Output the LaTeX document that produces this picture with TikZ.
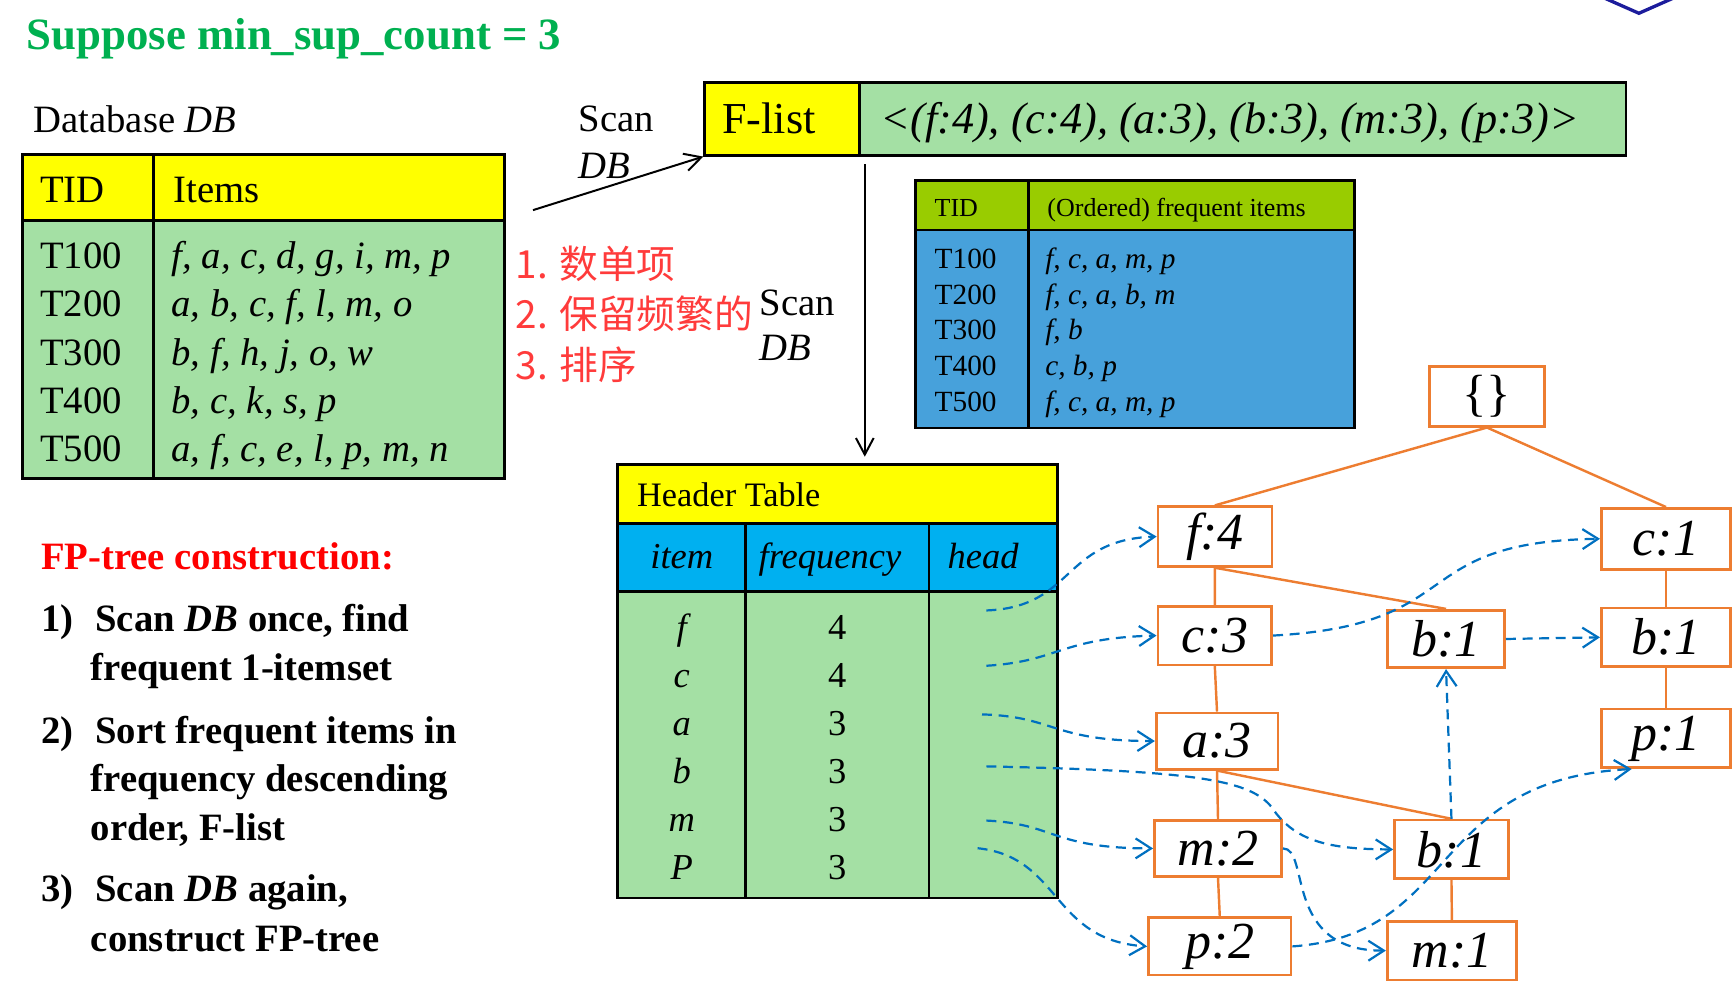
\documentclass[tikz,border=0pt]{standalone}
\usepackage{fontspec}
\setmainfont{Liberation Serif}
\newfontfamily\cjkfont{Noto Sans CJK SC}
\usetikzlibrary{arrows.meta, calc}
\definecolor{titlegreen}{HTML}{00B050}
\definecolor{hlyellow}{HTML}{FFFF00}
\definecolor{rowgreen}{HTML}{A4E0A4}
\definecolor{olivehead}{HTML}{99CC00}
\definecolor{rowblue}{HTML}{47A1DB}
\definecolor{headblue}{HTML}{00B0F0}
\definecolor{treeorange}{HTML}{ED7D31}
\definecolor{linkblue}{HTML}{0070C0}
\definecolor{notered}{HTML}{FF3B3B}
\definecolor{steptitle}{HTML}{FF0000}
\definecolor{logoblue}{HTML}{1C1C9C}
\newcommand{\pxfont}[1]{\fontsize{#1}{#1}\selectfont}

\begin{document}
\begin{tikzpicture}[x=1pt, y=-1pt,
    txt/.style={anchor=base west, inner sep=0pt, font=\pxfont{35}},
    ctxt/.style={anchor=base, inner sep=0pt, font=\pxfont{33}},
    stepline/.style={anchor=base west, inner sep=0pt, font=\pxfont{35}\bfseries},
    grid/.style={draw=black, line width=2.6pt},
    cell/.style={draw=black, line width=2.6pt, fill=#1, inner sep=0pt, anchor=north west, minimum height=66pt},
    fpnode/.style={draw=treeorange, line width=2.4pt, fill=white, inner sep=0pt, font=\pxfont{47}\itshape},
    fpedge/.style={draw=treeorange, line width=2.2pt},
    nodelink/.style={draw=linkblue, line width=2pt, dash pattern=on 9pt off 6pt, -{Straight Barb[length=14pt,width=18pt]}},
    scanarrow/.style={line width=1.8pt, -{Straight Barb[length=15pt,width=16pt]}}
]
\useasboundingbox (0,0) rectangle (1568,895);

% title and logo corner
\node[txt, font=\pxfont{40.5}\bfseries, text=titlegreen] (title) at (24,45) {Suppose min\_sup\_count = 3};
\draw[logoblue, line width=3pt] (1448,-3) -- (1482,12) -- (1516,-3);

% database
\node[txt] (dblabel) at (30,120) {Database \textit{DB}};
\fill[hlyellow] (20,140) rectangle (456,199);
\fill[rowgreen] (20,199) rectangle (456,433);
\draw[grid] (20,140) rectangle (456,433) (139,140) -- (139,433) (20,199) -- (456,199);
\node[txt] (dbtid) at (36,183) {TID};
\node[txt] (dbitems) at (157,183) {Items};
\foreach \tid/\items [count=\i] in {T100/{f, a, c, d, g, i, m, p}, T200/{a, b, c, f, l, m, o}, T300/{b, f, h, j, o, w}, T400/{b, c, k, s, p}, T500/{a, f, c, e, l, p, m, n}} {
  \node[txt] at (36,{242.7+43.7*(\i-1)}) {\tid};
  \node[txt, font=\pxfont{35}\itshape] at (155,{242.7+43.7*(\i-1)}) {\items};
}

% f-list
\node[cell=hlyellow, minimum width=140pt] (flisthead) at (636,73) {};
\node[cell=rowgreen, minimum width=693pt] (flistbody) at (776,73) {};
\node[txt, font=\pxfont{40}] at (653,120.6) {F-list};
\node[txt, font=\pxfont{40}\itshape] at (796,120.6) {<(f:4), (c:4), (a:3), (b:3), (m:3), (p:3)>};

\coordinate (scanfrom) at (482,190);
\draw[scanarrow] (scanfrom) -- (flisthead.south west);
\node[txt] at (523,119) {Scan};
\node[txt, font=\pxfont{35}\itshape] at (523,161) {DB};

% steps in red
\node[txt, font=\cjkfont\pxfont{35}, text=notered] at (466,251.5) {1. 数单项};
\node[txt, font=\cjkfont\pxfont{35}, text=notered] at (466,297) {2. 保留频繁的};
\node[txt, font=\cjkfont\pxfont{35}, text=notered] at (466,343) {3. 排序};
\node[txt] at (687,285) {Scan};
\node[txt, font=\pxfont{35}\itshape] at (687,325.6) {DB};

% ordered items
\fill[olivehead] (828,163) rectangle (1225,208);
\fill[rowblue] (828,208) rectangle (1225,387);
\draw[grid] (828,163) rectangle (1225,387) (930,163) -- (930,387) (828,208) -- (1225,208);
\node[txt, font=\pxfont{23.5}] at (845,196) {TID};
\node[txt, font=\pxfont{23.5}] at (947,196) {(Ordered) frequent items};
\foreach \tid/\items [count=\i] in {T100/{f, c, a, m, p}, T200/{f, c, a, b, m}, T300/{f, b}, T400/{c, b, p}, T500/{f, c, a, m, p}} {
  \node[txt, font=\pxfont{26.5}] at (845,{242.5+32.4*(\i-1)}) {\tid};
  \node[txt, font=\pxfont{26.5}\itshape] at (945,{242.5+32.4*(\i-1)}) {\items};
}

% header table
\fill[hlyellow] (558,420) rectangle (956,473);
\fill[headblue] (558,473) rectangle (956,535);
\fill[rowgreen] (558,535) rectangle (956,812);
\draw[grid] (558,420) rectangle (956,812) (558,473) -- (956,473) (558,535) -- (956,535) (674,473) -- (674,812) (840,473) -- (840,812);
\node[inner sep=0pt, minimum width=398pt, minimum height=392pt, anchor=north west] (hdrtable) at (558,420) {};
\node[txt, font=\pxfont{31}] at (576,458) {Header Table};
\node[ctxt, font=\pxfont{33}\itshape] at (616.5,513.8) {item};
\node[ctxt, font=\pxfont{33}\itshape] at (750.5,513.8) {frequency};
\node[ctxt, font=\pxfont{33}\itshape] at (889,513.8) {head};
\foreach \it/\fr [count=\i] in {f/4, c/4, a/3, b/3, m/3, P/3} {
  \node[ctxt, font=\pxfont{33}\itshape] at (616.5,{578.7+43.4*(\i-1)}) {\it};
  \node[ctxt] at (757,{578.7+43.4*(\i-1)}) {\fr};
}
\draw[scanarrow] ($(flistbody.south west)+(6,7)$) -- ($(flistbody.south west |- hdrtable.north)+(6,-7)$);

% fp-tree
\node[fpnode, minimum width=104pt, minimum height=54pt] (root) at (1344.6,358.4) {\upshape\pxfont{46}\{\}};
\node[fpnode, minimum width=103pt, minimum height=54pt] (f4) at (1098.6,485.2) {f:4};
\node[fpnode, minimum width=117pt, minimum height=55pt] (c1) at (1506.5,487.2) {c:1};
\node[fpnode, minimum width=103pt, minimum height=53pt] (c3) at (1098.5,574.7) {c:3};
\node[fpnode, minimum width=106pt, minimum height=52pt] (bm) at (1307.6,577.8) {b:1};
\node[fpnode, minimum width=117pt, minimum height=53pt] (br) at (1506.5,576.3) {b:1};
\node[fpnode, minimum width=117pt, minimum height=53pt] (p1) at (1506.5,667.7) {p:1};
\node[fpnode, minimum width=110pt, minimum height=51pt] (a3) at (1100.5,670.1) {a:3};
\node[fpnode, minimum width=115pt, minimum height=51pt] (m2) at (1101.4,767.2) {m:2};
\node[fpnode, minimum width=103pt, minimum height=53pt] (bl) at (1312.5,768.1) {b:1};
\node[fpnode, minimum width=129pt, minimum height=52pt] (p2) at (1103,855.8) {p:2};
\node[fpnode, minimum width=117pt, minimum height=53pt] (m1) at (1312.9,859.6) {m:1};

\draw[fpedge] (root.south) -- (f4.north);
\draw[fpedge] (root.south) -- (c1.north);
\draw[fpedge] (f4.south) -- (c3.north);
\draw[fpedge] (f4.south) -- (bm.north);
\draw[fpedge] (c3.south) -- (a3.north);
\draw[fpedge] (a3.south) -- (m2.north);
\draw[fpedge] (a3.south) -- (bl.north);
\draw[fpedge] (m2.south) -- (p2.north);
\draw[fpedge] (bl.south) -- (m1.north);
\draw[fpedge] (c1.south) -- (br.north);
\draw[fpedge] (br.south) -- (p1.north);

% node-links
\coordinate (hf) at (892,552);
\coordinate (hc) at (892,602);
\coordinate (ha) at (888,646);
\coordinate (hb) at (892,693);
\coordinate (hm) at (892,742);
\coordinate (hp) at (884,767);
\draw[nodelink] (hf) .. controls (972,549) and (960,488) .. (f4.west);
\draw[nodelink] (hc) .. controls (958,598) and (958,577) .. (c3.west);
\draw[nodelink] (ha) .. controls (955,648) and (950,670) .. (a3.west);
\draw[nodelink] (hb) .. controls (1080,697) and (1130,705) .. (1150,730) .. controls (1170,760) and (1200,768) .. (bl.west);
\draw[nodelink] (hm) .. controls (955,745) and (950,767) .. (m2.west);
\draw[nodelink] (hp) .. controls (960,775) and (950,850) .. (p2.west);
\draw[nodelink] (c3.east) .. controls (1330,565) and (1270,490) .. (c1.west);
\draw[nodelink] (bm.east) -- (br.west);
\draw[nodelink] (bl.north) -- (bm.south);
\draw[nodelink] (m2.east) .. controls (1185,767) and (1160,860) .. (m1.west);
\draw[nodelink] (p2.east) .. controls (1320,845) and (1290,705) .. ($(p1.south west)!0.24!(p1.south east)$);

% construction steps
\node[stepline, text=steptitle] at (37,515.4) {FP-tree construction:};
\node[stepline] at (37,571.2) {1)};
\node[stepline] at (86,571.2) {Scan \textit{DB} once, find};
\node[stepline] at (82,614.9) {frequent 1-itemset};
\node[stepline] at (37,672) {2)};
\node[stepline] at (86,672) {Sort frequent items in};
\node[stepline] at (82,715.9) {frequency descending};
\node[stepline] at (82,759.6) {order, F-list};
\node[stepline] at (37,815.3) {3)};
\node[stepline] at (86,815.3) {Scan \textit{DB} again,};
\node[stepline] at (82,860.5) {construct FP-tree};
\end{tikzpicture}
\end{document}
